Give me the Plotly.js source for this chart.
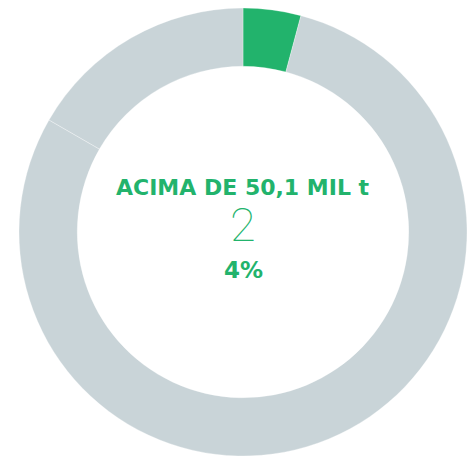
<!DOCTYPE html>
<html>
<head>
<meta charset="utf-8">
<script src="https://cdn.plot.ly/plotly-3.0.1.min.js"></script>
<style>html,body{margin:0;padding:0;background:#fff;}#chart{width:473px;height:456px;}</style>
</head>
<body>
<div id="chart"></div>
<script>
const categories = ["Acima de 50,1 mil t", "Demais", "Outros"];
const counts = [2, 38, 8];
const colors = ["#22b36c", "#c9d4d8", "#c9d4d8"];
const centerTitle = "ACIMA DE 50,1 MIL t";
const centerCount = "2";
const centerPct = "4%";

const W = 473, H = 456;
const cx = 243, cy = 232, R = 224;

const trace = {
  type: "pie",
  labels: categories,
  values: counts,
  hole: 0.74,
  sort: false,
  direction: "clockwise",
  rotation: 0,
  textinfo: "none",
  hoverinfo: "none",
  marker: { colors: colors, line: { color: "rgba(255,255,255,0.6)", width: 0.5 } },
  domain: { x: [(cx - R) / W, (cx + R) / W], y: [(H - cy - R) / H, (H - cy + R) / H] },
  showlegend: false
};

const green = "#22b36c";
const layout = {
  width: W, height: H,
  margin: { l: 0, r: 0, t: 0, b: 0 },
  paper_bgcolor: "#fff",
  showlegend: false,
  annotations: [
    { text: centerTitle, x: cx / W, y: (H - 188) / H, xref: "paper", yref: "paper", showarrow: false,
      xanchor: "center", yanchor: "middle",
      font: { family: "'DejaVu Sans', sans-serif", size: 22, color: green, weight: 700 } },
    { text: centerCount, x: cx / W, y: (H - 224) / H, xref: "paper", yref: "paper", showarrow: false,
      xanchor: "center", yanchor: "middle",
      font: { family: "Roboto, 'DejaVu Sans', sans-serif", size: 47, color: green, weight: 100 } },
    { text: centerPct, x: cx / W, y: (H - 270) / H, xref: "paper", yref: "paper", showarrow: false,
      xanchor: "center", yanchor: "middle",
      font: { family: "'DejaVu Sans', sans-serif", size: 23, color: green, weight: 700 } }
  ]
};

Plotly.newPlot("chart", [trace], layout, { displayModeBar: false, staticPlot: true });
</script>
</body>
</html>
